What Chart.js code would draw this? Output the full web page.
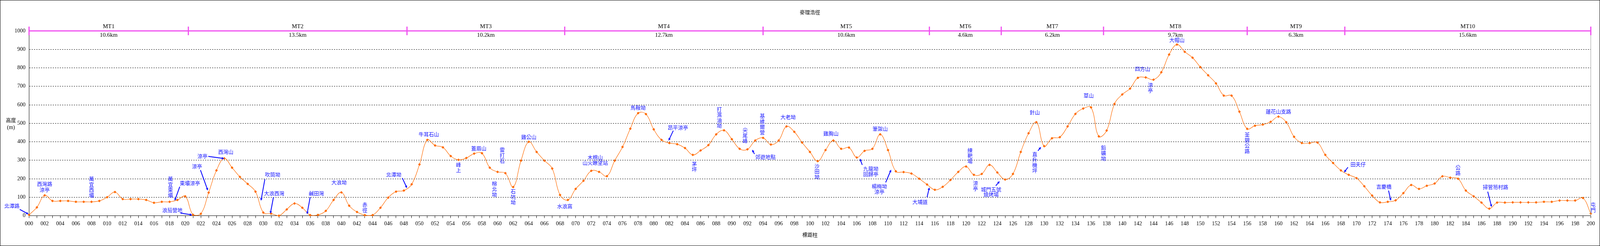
<!DOCTYPE html>
<html><head><meta charset="utf-8">
<script src="https://cdn.jsdelivr.net/npm/chart.js@4/dist/chart.umd.min.js"></script>
<style>html,body{margin:0;padding:0;background:#fff;overflow:hidden}#wrap{width:100vw;height:100vh;position:relative}</style>
</head><body><div id="wrap"><canvas id="c"></canvas></div>
<script>
const chartTitle = "麥理浩徑";
const xTitle = "標距柱";
const yTitle = ["高度", "(m)"];
const markerIndex = Array.from({length: 201}, (_, i) => i);
const elevation = [
 5,45,110,80,80,80,75,75,75,80,
 100,128,90,90,90,85,70,75,75,85,
 105,5,10,125,245,310,260,210,172,130,
 17,11,0,34,66,43,3,4,26,85,
 126,54,20,3,3,43,98,130,136,170,
 277,410,380,370,323,302,312,336,338,260,
 237,230,155,298,400,345,298,255,112,85,
 145,189,243,237,214,298,372,471,555,550,
 467,410,393,387,366,329,353,382,440,462,
 414,362,359,407,421,385,407,483,454,396,
 345,295,355,407,362,369,315,351,362,440,
 355,240,236,228,200,169,140,156,193,237,
 266,221,226,275,234,196,226,345,446,506,
 376,419,425,483,551,580,586,429,461,605,
 656,688,746,748,736,776,872,926,887,855,
 804,760,716,650,650,563,470,487,493,508,
 536,506,427,393,393,396,329,285,245,221,
 203,159,109,72,75,83,122,166,145,162,
 174,213,206,200,136,105,71,38,71,71,
 72,72,72,72,75,75,82,82,82,96,11
];
const sectionNames = ["MT1","MT2","MT3","MT4","MT5","MT6","MT7","MT8","MT9","MT10"];
const sectionLengths = ["10.6km","13.5km","10.2km","12.7km","10.6km","4.6km","6.2km","9.7km","6.3km","15.6km"];
const sectionBounds = [0,20.4,48.4,68.6,94.0,115.3,124.5,137.6,156.0,168.5,200];
// [text, marker index, elevation, vertical]
const placeLabels = [
 ["北潭路",-2.2,54,false],["西灣路",2.0,173,false],["涼亭",2.0,140,false],
 ["萬宜西壩",8.0,200,true],["萬宜東壩",18.1,200,true],["東壩涼亭",20.6,176,false],
 ["浪茄營地",18.35,30,false],["涼亭",21.5,268,false],["涼亭",22.2,322,false],["西灣山",25.2,345,false],
 ["吹筒坳",31.2,224,false],["大浪西灣",31.4,122,false],["鹹田灣",36.8,122,false],["大浪坳",39.7,181,false],
 ["赤徑",43.0,60,true],["北潭坳",46.7,224,false],["牛耳石山",51.2,441,false],["峰上",55.0,277,true],
 ["蓋眉山",57.6,366,false],["榕北坳",59.6,174,true],["雷打石",60.6,357,true],["石坑坳",62.0,132,true],
 ["雞公山",64.0,427,false],["水浪窩",68.6,51,false],["木棉山",72.5,317,false],["山火瞭望站",72.5,287,false],
 ["馬鞍坳",78.0,585,false],["昂平涼亭",83.1,477,false],["茅坪",85.2,281,true],["打濕油坳",88.4,577,true],
 ["尖尾峰",91.7,464,true],["郊遊地點",94.3,319,false],["基維爾營",93.9,540,true],["大老坳",97.2,534,false],
 ["雞胸山",102.7,445,false],["沙田坳",100.9,270,true],["筆架山",109.0,471,false],
 ["九龍坳",107.8,254,false],["回歸亭",107.8,226,false],["楊梅坳",108.9,159,false],["涼亭",108.9,130,false],
 ["大埔道",114.1,75,false],["練靶場",120.5,355,true],["涼亭",121.2,176,true],
 ["城門五號",123.2,143,false],["燒烤場",123.2,115,false],["針山",128.8,560,false],["直升機坪",128.8,334,true],
 ["草山",135.7,651,false],["鉛礦坳",137.6,370,true],["四方山",142.6,794,false],["涼亭",143.6,708,true],
 ["大帽山",147.0,951,false],["荃錦公路",156.0,440,true],["蓮花山支路",160.0,563,false],["田夫仔",170.2,278,false],
 ["吉慶橋",173.5,157,false],["公路",183.0,261,true],["掃管笏村路",187.8,155,false],["屯門",200.3,60,true]
];
// [from index, from elev, to index, to elev]
const arrows = [
 [-1.19,34,-0.05,8],[19.3,157,18.65,81],[19.4,14,20.9,4],[21.95,247,22.9,136],[22.95,321,25.0,309],
 [30.2,197,29.7,81],[31.3,100,30.9,11],[36.0,100,35.6,8],[47.8,204,48.4,149],[82.5,460,81.9,406],
 [92.9,334,92.6,357],[106.7,275,106.4,309],[109.7,180,110.4,249],[115.0,100,115.3,153],
 [123.8,162,124.3,187],[129.2,351,129.6,372],[168.9,262,168.4,234],[174.1,136,174.4,81],[186.8,130,187.3,47]
];

const CJK = '"Noto Sans CJK TC", "Noto Sans CJK SC", sans-serif';
const SERIF = '"Liberation Serif", "DejaVu Serif", serif';
// design units (reference pixels) -> css pixels
const fx = window.innerWidth / 4517, fy = window.innerHeight / 629;
const px = v => v * fx, py = v => v * fy;
const fnt = (s, fam) => (s * fy).toFixed(2) + 'px ' + fam;

const overlay = {
 id: 'overlay',
 afterDraw(chart) {
  const ctx = chart.ctx, xs = chart.scales.x, ys = chart.scales.y;
  const W = chart.width, H = chart.height;
  ctx.save();
  ctx.strokeStyle = '#000'; ctx.lineWidth = 1;
  ctx.strokeRect(0.5, 0.5, W - 1, H - 1);
  ctx.fillStyle = '#000'; ctx.textAlign = 'center'; ctx.textBaseline = 'middle';
  ctx.font = fnt(13, CJK);
  ctx.fillText(chartTitle, (xs.left + xs.right) / 2, py(31));
  ctx.fillText(xTitle, (xs.left + xs.right) / 2, py(600));
  ctx.fillText(yTitle[0], px(31), py(307));
  ctx.font = fnt(14, SERIF);
  ctx.fillText(yTitle[1], px(31), py(326));
  const xr = xs.getPixelForValue(200);
  ctx.strokeStyle = '#999'; ctx.lineWidth = 1;
  ctx.beginPath(); ctx.moveTo(xr, ys.getPixelForValue(1000)); ctx.lineTo(xr, ys.getPixelForValue(0)); ctx.stroke();
  const yb = ys.getPixelForValue(1000);
  ctx.strokeStyle = '#f04ff0'; ctx.lineWidth = 3 * fy;
  ctx.beginPath(); ctx.moveTo(xs.getPixelForValue(0), yb); ctx.lineTo(xr, yb); ctx.stroke();
  sectionBounds.forEach(b => {
   const x = xs.getPixelForValue(b);
   ctx.beginPath(); ctx.moveTo(x, yb - py(11)); ctx.lineTo(x, yb + py(11)); ctx.stroke();
  });
  ctx.fillStyle = '#000'; ctx.font = fnt(15, SERIF);
  for (let i = 0; i < sectionNames.length; i++) {
   const cx = (xs.getPixelForValue(sectionBounds[i]) + xs.getPixelForValue(sectionBounds[i + 1])) / 2;
   ctx.fillText(sectionNames[i], cx, yb - py(11));
   ctx.fillText(sectionLengths[i], cx, yb + py(11));
  }
  ctx.fillStyle = '#1010ff'; ctx.font = fnt(13, CJK);
  placeLabels.forEach(([t, xi, ev, vert]) => {
   const x = xs.getPixelForValue(xi), y = ys.getPixelForValue(ev);
   if (vert) { [...t].forEach((ch, k) => ctx.fillText(ch, x, y + k * py(14))); }
   else ctx.fillText(t, x, y);
  });
  ctx.strokeStyle = '#1010ff'; ctx.lineWidth = 2.2 * fy;
  arrows.forEach(([a, b, c, d]) => {
   const x1 = xs.getPixelForValue(a), y1 = ys.getPixelForValue(b);
   const x2 = xs.getPixelForValue(c), y2 = ys.getPixelForValue(d);
   const ang = Math.atan2(y2 - y1, x2 - x1), h = 7 * fy;
   ctx.beginPath(); ctx.moveTo(x1, y1); ctx.lineTo(x2 - 0.6 * h * Math.cos(ang), y2 - 0.6 * h * Math.sin(ang)); ctx.stroke();
   ctx.beginPath(); ctx.moveTo(x2, y2);
   ctx.lineTo(x2 - h * Math.cos(ang - 0.45), y2 - h * Math.sin(ang - 0.45));
   ctx.lineTo(x2 - h * Math.cos(ang + 0.45), y2 - h * Math.sin(ang + 0.45));
   ctx.closePath(); ctx.fill();
  });
  ctx.restore();
 }
};

new Chart(document.getElementById('c'), {
 type: 'line',
 data: { datasets: [{
  data: markerIndex.map((x, i) => ({x, y: elevation[i]})),
  borderColor: '#ff6a00', backgroundColor: '#ff6a00', borderWidth: 1.2 * fy,
  pointStyle: 'rectRot', pointRadius: 3.5 * fy, pointBorderWidth: 0, tension: 0.4,
  clip: false
 }]},
 options: {
  responsive: true, maintainAspectRatio: false, animation: false,
  layout: { padding: { top: py(79), right: px(26), left: 0, bottom: 0 } },
  plugins: { legend: { display: false }, tooltip: { enabled: false } },
  scales: {
   x: {
    type: 'linear', min: 0, max: 200,
    afterFit(s) { s.height = py(77.5); },
    ticks: { stepSize: 1, autoSkip: false, maxRotation: 0, minRotation: 0, color: '#000', padding: py(6),
      font: { family: SERIF, size: 14 * fy },
      callback: v => (v % 2 === 0 ? String(v).padStart(3, '0') : '') },
    grid: { drawOnChartArea: false, drawTicks: true, tickLength: py(6), color: '#000' },
    border: { color: '#000', width: 1 }
   },
   y: {
    min: 0, max: 1000,
    afterFit(s) { s.width = px(82); },
    ticks: { stepSize: 100, color: '#000', padding: px(10), font: { family: SERIF, size: 14 * fy }, callback: v => String(v) },
    grid: { drawTicks: false, color: c => (c.tick.value > 0 && c.tick.value < 1000 ? '#000' : 'rgba(0,0,0,0)'), lineWidth: 1 },
    border: { color: '#000', width: 1, dash: [3, 3] }
   }
  }
 },
 plugins: [overlay]
});
</script></body></html>
